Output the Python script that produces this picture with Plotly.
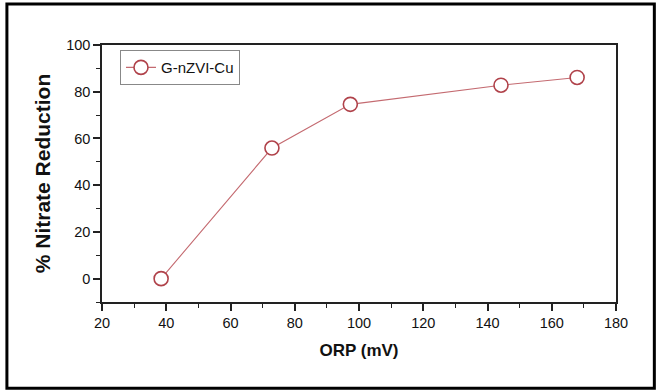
import plotly.graph_objects as go

orp_mv = [38.4, 72.9, 97.3, 144.2, 167.9]
nitrate_reduction = [0.0, 55.9, 74.6, 82.8, 86.1]
series_name = "G-nZVI-Cu"
x_ticks = [20, 40, 60, 80, 100, 120, 140, 160, 180]
y_ticks = [0, 20, 40, 60, 80, 100]

fig = go.Figure()
fig.add_trace(go.Scatter(
    x=orp_mv, y=nitrate_reduction, mode="lines+markers", name=series_name,
    line=dict(color="#c46a70", width=1.1),
    marker=dict(symbol="circle", size=14, color="white",
                line=dict(color="#b0424a", width=1.6)),
))

axis_common = dict(
    showline=True, linecolor="#222", linewidth=1.5, mirror=True,
    ticks="outside", ticklen=7, tickwidth=1.5, tickcolor="#222",
    showgrid=False, zeroline=False,
    tickfont=dict(family="Liberation Sans, Arial", size=14.5, color="#111"),
    minor=dict(ticks="outside", ticklen=4, tickwidth=1.2, tickcolor="#222", showgrid=False),
)

fig.update_xaxes(range=[20, 180], tickvals=x_ticks, minor_dtick=10,
                 title=dict(text="<b>ORP (mV)</b>", standoff=14,
                            font=dict(family="Liberation Sans, Arial", size=17, color="#111")),
                 **axis_common)
fig.update_yaxes(range=[-10, 100], tickvals=y_ticks, minor_dtick=10,
                 title=dict(text="<b>% Nitrate Reduction</b>", standoff=10,
                            font=dict(family="Liberation Sans, Arial", size=21, color="#111")),
                 **axis_common)

fig.update_layout(
    width=659, height=390,
    margin=dict(l=102, r=43, t=45, b=88),
    paper_bgcolor="white", plot_bgcolor="white",
    showlegend=True,
    legend=dict(x=0.035, y=0.98, xanchor="left", yanchor="top",
                bordercolor="#888", borderwidth=1, bgcolor="white",
                font=dict(family="Liberation Sans, Arial", size=15, color="#111")),
    shapes=[dict(type="rect", xref="paper", yref="paper",
                 x0=-0.185, x1=1.0746, y0=-0.336, y1=1.16,
                 line=dict(color="black", width=3))],
)

fig.write_html("out.html")
